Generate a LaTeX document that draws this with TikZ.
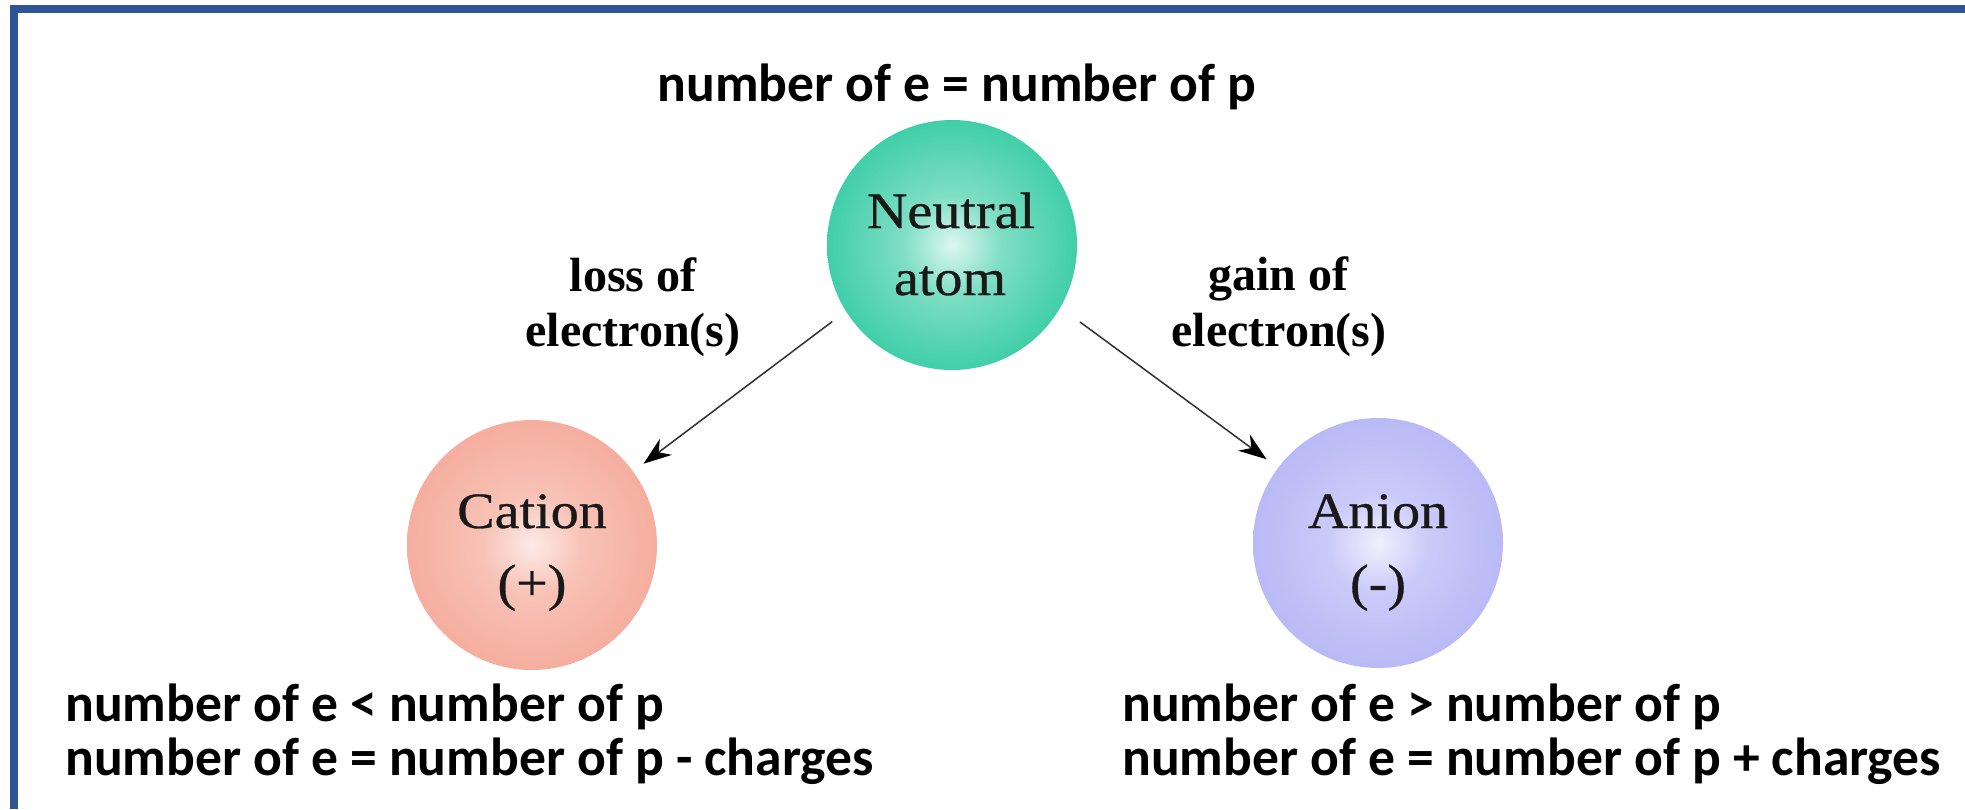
\documentclass[tikz,border=0pt]{standalone}
\usepackage{fontspec}
\setmainfont{Liberation Serif}
\newfontfamily\calfont{Carlito}
\newfontfamily\timeswide[FakeStretch=1.1,FakeBold=0.6]{Liberation Serif}
\usetikzlibrary{arrows.meta}
\definecolor{frameblue}{HTML}{2F5597}
\definecolor{nA}{HTML}{DDF7F0}
\definecolor{nB}{HTML}{7EDEC4}
\definecolor{nC}{HTML}{34CBA4}
\definecolor{nD}{HTML}{1CBC93}
\definecolor{cA}{HTML}{FCEBE7}
\definecolor{cB}{HTML}{F8C2B6}
\definecolor{cC}{HTML}{F4AA9A}
\definecolor{cD}{HTML}{F19A87}
\definecolor{aA}{HTML}{F0F0FD}
\definecolor{aB}{HTML}{CACAF9}
\definecolor{aC}{HTML}{B6B6F5}
\definecolor{aD}{HTML}{A6A6F1}
\definecolor{arrowgray}{HTML}{303030}
\pgfdeclareradialshading{neutralshade}{\pgfpointorigin}{color(0bp)=(nA); color(10bp)=(nB); color(28bp)=(nC); color(50bp)=(nD)}
\pgfdeclareradialshading{cationshade}{\pgfpointorigin}{color(0bp)=(cA); color(10bp)=(cB); color(28bp)=(cC); color(50bp)=(cD)}
\pgfdeclareradialshading{anionshade}{\pgfpointorigin}{color(0bp)=(aA); color(10bp)=(aB); color(28bp)=(aC); color(50bp)=(aD)}
\tikzset{
  ball/.style={circle, minimum size=125pt, inner sep=0pt},
  circtext/.style={inner sep=0pt, anchor=base, text=black!90, font=\timeswide\fontsize{25.5}{30}\selectfont},
  labeltext/.style={inner sep=0pt, anchor=base, font=\bfseries\fontsize{24}{28}\selectfont},
  calibritext/.style={inner sep=0pt, font=\calfont\bfseries\fontsize{26.8}{32}\selectfont},
  conn/.style={draw=arrowgray, line width=0.75pt, -{Stealth[length=14pt,width=10pt,color=black]}}
}
\begin{document}
\begin{tikzpicture}[x=0.5pt,y=-0.5pt]
\useasboundingbox (0,0) rectangle (1965,809);
\fill[white] (0,0) rectangle (1965,809);
% frame (top and left edges)
\fill[frameblue] (10,5) rectangle (1965,13);
\fill[frameblue] (10,5) rectangle (18,809);

% circles
\node[ball, shading=neutralshade] (neutral) at (952,245) {};
\node[ball, shading=cationshade] (cation) at (532,545) {};
\node[ball, shading=anionshade] (anion) at (1378,543) {};

% circle texts
\node[circtext] (neutralA) at (951,228) {Neutral};
\node[circtext] (neutralB) at (950,295) {atom};
\node[circtext] (cationA) at (532,528) {Cation};
\node[circtext] (cationB) at (532,600) {(+)};
\node[circtext] (anionA) at (1378,528) {Anion};
\node[circtext] (anionB) at (1378,600) {(-)};

% arrow labels
\node[labeltext] (lossA) at (633,291) {loss of};
\node[labeltext] (lossB) at (633,346) {electron(s)};
\node[labeltext] (gainA) at (1278,290) {gain of};
\node[labeltext] (gainB) at (1279,346) {electron(s)};

% arrows
\draw[conn, shorten <=8.4pt, shorten >=6.3pt] (neutral.212.9) -- (cation.36);
\draw[conn, shorten <=12pt, shorten >=7pt] (neutral.330.7) -- (anion.143.7);

% explanatory texts
\node[calibritext, anchor=base] (topeq) at (957,101) {number of e = number of p};
\node[calibritext, anchor=base west] (catA) at (65,721) {number of e < number of p};
\node[calibritext, anchor=base west] (catB) at (65,775) {number of e = number of p - charges};
\node[calibritext, anchor=base west] (anA) at (1122,721) {number of e > number of p};
\node[calibritext, anchor=base west] (anB) at (1122,775) {number of e = number of p + charges};
\end{tikzpicture}
\end{document}
